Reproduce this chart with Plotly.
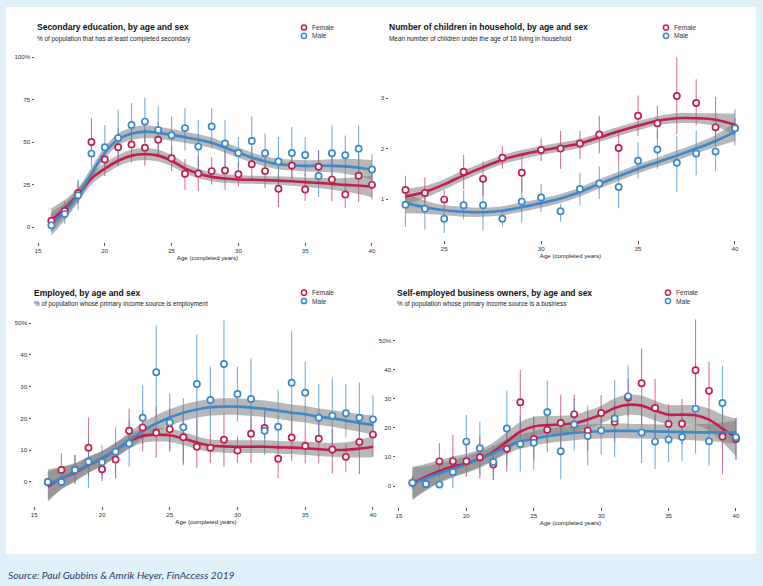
import numpy as np
import plotly.graph_objects as go

W, H = 763, 586

# ---------------- data ----------------
ages_a = list(range(16, 41))
ages_b = list(range(23, 41))

# Panel 1: secondary education (%)
edu_f = [3.7, 9.5, 20, 50, 39.7, 47, 48.6, 46.7, 51.4, 40.5, 31.3, 31.5, 32.9, 33.3, 31.1, 37, 32.9, 22.5, 36.2, 22.1, 35.5, 27.9, 19.2, 30.2, 24.8]
edu_f_lo = [0.5, 5, 14, 43, 30, 36, 38, 36, 41, 33, 22, 21, 25, 22, 24, 28, 23, 11.8, 28, 15.3, 26, 15.3, 11.4, 14.7, 16.3]
edu_f_hi = [8, 15, 27, 64, 49, 58, 59, 58, 62, 48, 40, 42, 41, 45, 38, 47, 42, 34, 45, 32, 45.3, 42, 28, 43, 33]
edu_m = [1, 7.6, 18.7, 43.2, 47, 52.3, 60, 62, 57, 54, 58.2, 47.3, 59.1, 49.2, 43.6, 50.6, 43.4, 38.6, 43.6, 42.4, 30, 43.4, 42.2, 46.1, 33.9]
edu_m_lo = [-2, 2, 10, 35, 34, 36, 48, 50, 43, 42, 45, 33, 46, 36, 34, 36, 32, 22.5, 29, 30, 17.6, 27, 27, 30, 25]
edu_m_hi = [4, 14, 28, 52, 60, 69, 73, 76, 71, 65, 70, 63, 70, 63, 53, 65, 55, 53, 58.9, 53, 44.8, 59.9, 53.9, 59.9, 42.8]
edu_f_fit = [4, 11, 19, 28.5, 34.3, 39, 42, 42.9, 42, 39, 34.5, 31.5, 29.5, 28.5, 28, 27.8, 27.6, 27.3, 26.9, 26.4, 26, 25.4, 24.8, 24.4, 23.8]
edu_m_fit = [2, 9, 18.7, 31.4, 43.7, 51.5, 54.8, 56.1, 55.4, 54.2, 52.8, 51.3, 49.6, 46.7, 43.8, 40.9, 38.6, 37, 36.4, 36, 36, 36, 35.7, 34.9, 33.7]
edu_f_se = [7, 5, 4, 3.5, 3.3, 3.3, 3.5, 3.6, 3.5, 3.3, 3, 2.8, 2.6, 2.5, 2.4, 2.4, 2.4, 2.5, 2.6, 2.8, 3, 3.4, 4, 5, 6.3]
edu_m_se = [7, 5, 4, 3.6, 3.5, 3.5, 3.6, 3.7, 3.6, 3.5, 3.3, 3.2, 3.1, 3, 3, 3, 3, 3.1, 3.2, 3.3, 3.5, 3.8, 4.3, 5, 5.8]

# Panel 2: number of children
kid_f = [1.18, 1.12, 0.99, 1.54, 1.40, 1.82, 1.52, 1.97, 2.0, 2.1, 2.28, 2.01, 2.65, 2.5, 3.04, 2.9, 2.42, 2.41]
kid_f_lo = [1.0, 0.95, 0.8, 1.2, 1.05, 1.6, 1.15, 1.75, 1.6, 1.8, 1.9, 1.67, 2.25, 2.2, 2.29, 2.45, 2.1, 2.3]
kid_f_hi = [1.46, 1.43, 1.18, 1.87, 1.75, 2.05, 1.83, 2.2, 2.35, 2.35, 2.65, 2.33, 3.05, 2.84, 3.8, 3.37, 3.02, 2.6]
kid_m = [0.89, 0.81, 0.61, 0.88, 0.88, 0.61, 0.95, 1.03, 0.76, 1.2, 1.31, 1.24, 1.76, 1.98, 1.72, 1.9, 1.94, 2.4]
kid_m_lo = [0.45, 0.4, 0.33, 0.6, 0.38, 0.45, 0.54, 0.75, 0.55, 0.88, 1.0, 0.82, 1.4, 1.6, 1.14, 1.47, 1.55, 2.06]
kid_m_hi = [1.1, 1.1, 0.8, 1.17, 1.38, 0.78, 1.4, 1.3, 0.9, 1.52, 1.65, 1.67, 2.12, 2.35, 2.25, 2.35, 2.35, 2.78]
kid_f_fit = [1.05, 1.14, 1.29, 1.47, 1.63, 1.78, 1.88, 1.96, 2.03, 2.1, 2.22, 2.34, 2.45, 2.55, 2.6, 2.6, 2.57, 2.47]
kid_m_fit = [0.92, 0.84, 0.78, 0.75, 0.74, 0.77, 0.84, 0.92, 1.01, 1.14, 1.3, 1.45, 1.6, 1.73, 1.86, 2.0, 2.15, 2.33]
kid_f_se = [0.16, 0.12, 0.1, 0.1, 0.09, 0.09, 0.09, 0.09, 0.09, 0.09, 0.09, 0.09, 0.09, 0.09, 0.1, 0.1, 0.13, 0.22]
kid_m_se = [0.2, 0.13, 0.1, 0.1, 0.09, 0.09, 0.09, 0.09, 0.09, 0.09, 0.09, 0.09, 0.09, 0.09, 0.1, 0.1, 0.12, 0.18]

# Panel 3: employed (%)
emp_f = [0, 3.8, 3.8, 10.8, 4, 7.1, 16.1, 17.1, 15.5, 16.6, 14.1, 11.1, 10.8, 13.3, 9.9, 15.2, 17.0, 7.3, 14.0, 11.3, 13.6, 10.2, 7.9, 12.6, 14.9]
emp_f_lo = [0, -0.5, -0.5, 1.5, 0.3, 1.6, 11, 9.6, 7.6, 9.6, 5.9, 4.3, 6, 4.8, 6, 6, 13.5, 1.2, 6.5, 5.8, 5.8, 2.7, 3.2, 2.5, 8]
emp_f_hi = [0, 9, 8.5, 20.3, 8, 12.6, 23.1, 22.6, 23.5, 23, 22, 20, 15.3, 22, 14.3, 20.5, 23.5, 12, 22, 17, 19, 17, 12, 19, 19]
emp_m = [0, 0, 3.8, 6.4, 6.2, 9.5, 12.1, 20.2, 34.5, 18.7, 17.2, 30.8, 25.8, 37.1, 27.7, 26.1, 16.1, 17.4, 31.2, 28.1, 20.2, 20.8, 21.6, 20.2, 19.7]
emp_m_lo = [0, 0, -0.6, -1.8, 1, 1, 4.8, 12.1, 20, 10, 5.3, 12, 15.3, 23, 19, 14, 8.5, 10, 15, 17, 12.6, 8, 14, 10, 15]
emp_m_hi = [0, 0, 8.5, 14, 11.6, 17.4, 19.4, 30.4, 49.3, 27.9, 26.3, 46.4, 36.3, 50.9, 36.3, 38.9, 22, 29, 47.6, 37.9, 30.8, 32.6, 30.8, 31.2, 27.3]
emp_f_fit = [-1.5, 1.2, 2.9, 5.3, 7.4, 10, 12.7, 14.5, 14.9, 14.7, 13.7, 12.4, 11.4, 11.2, 11.1, 11.1, 11.1, 10.9, 10.8, 10.6, 10.3, 10.1, 10.1, 10.5, 11.1]
emp_m_fit = [-0.9, 1.2, 3.2, 5.5, 7.4, 10, 13, 16.1, 18.4, 20.3, 21.8, 22.8, 23.5, 23.7, 23.7, 23.4, 23, 22.4, 21.8, 21.3, 20.5, 20, 19.3, 18.6, 17.9]
emp_f_se = [4.8, 3.5, 2.8, 2.5, 2.3, 2.2, 2.2, 2.2, 2.2, 2.1, 2.1, 2, 2, 2, 2, 2, 2, 2, 2, 2.1, 2.1, 2.2, 2.4, 2.8, 3.3]
emp_m_se = [4.8, 3.5, 2.8, 2.5, 2.4, 2.4, 2.5, 2.6, 2.6, 2.6, 2.6, 2.6, 2.6, 2.6, 2.6, 2.6, 2.6, 2.6, 2.6, 2.6, 2.6, 2.6, 2.7, 2.8, 3]

# Panel 4: self-employed business owners (%)
bus_f = [1.1, 0.7, 8.5, 8.5, 8.5, 9.9, 7.4, 12.8, 28.9, 16.2, 19.4, 21.7, 24.7, 19.1, 25.2, 22.1, 30.5, 35.4, 26.9, 21.4, 21.5, 39.9, 32.8, 17.1, 16.2]
bus_f_lo = [-0.5, -0.5, 2.6, 4.5, 3.2, 2.6, 2.1, 4.9, 18, 9, 11.8, 12, 18, 12, 19, 15, 24, 21.1, 16.5, 14.3, 14.3, 22.3, 23.4, 4.1, 9.1]
bus_f_hi = [3.5, 2, 14.7, 17.6, 14, 17, 12.5, 21, 40, 23.9, 27, 31.5, 31.5, 26, 31.3, 29, 37, 47.4, 37, 28.2, 30, 57.4, 42.8, 28, 23.4]
bus_m = [1.1, 0.7, 0.5, 4.8, 15.3, 13, 8.3, 19.8, 14.5, 14.9, 25.4, 12.0, 21.2, 17.2, 19.1, 23.3, 30.9, 18.4, 15.3, 16, 16.9, 26.6, 15.4, 28.6, 16.8]
bus_m_lo = [-1, -0.5, -0.5, -0.8, 7, 4, 2.5, 7, 5, 5.7, 14.5, 2.3, 12.3, 7.1, 10.8, 9.9, 20, 7.9, 5.9, 8.3, 8.5, 11.1, 7, 16.5, 9.1]
bus_m_hi = [3, 2, 1.5, 10.5, 24.5, 22.2, 14, 32.8, 24, 24, 36.3, 22, 30, 27.7, 27.5, 36.5, 41.5, 28, 24.6, 23.4, 24.6, 41.9, 23.4, 41.4, 23.4]
bus_f_fit = [0.9, 3.2, 5.2, 6.7, 7.8, 9.5, 11.8, 15.3, 18.7, 20.5, 21, 21.2, 21.6, 22.9, 24.6, 26.9, 28, 27.7, 26, 24.6, 24.6, 24.4, 22.9, 19.8, 16.8]
bus_m_fit = [0.9, 2.6, 4.4, 5.9, 7.5, 9.3, 11.3, 13.6, 15.3, 16.4, 17.2, 17.8, 18.3, 18.7, 18.9, 19, 19, 18.9, 18.8, 18.7, 18.6, 18.5, 18.5, 18.5, 18.5]
bus_f_se = [5.7, 4.5, 3.8, 3.5, 3.3, 3.2, 3.2, 3.3, 3.4, 3.3, 3.1, 3, 3, 3, 3.1, 3.3, 3.5, 3.5, 3.4, 3.3, 3.3, 3.4, 3.8, 4.8, 6.5]
bus_m_se = [5.5, 4.2, 3.4, 3, 2.8, 2.6, 2.5, 2.5, 2.5, 2.5, 2.5, 2.5, 2.5, 2.5, 2.5, 2.5, 2.5, 2.5, 2.5, 2.5, 2.6, 2.8, 3, 3.4, 4]

titles = ["Secondary education, by age and sex",
          "Number of children in household, by age and sex",
          "Employed, by age and sex",
          "Self-employed business owners, by age and sex"]
subtitles = ["% of population that has at least completed secondary",
             "Mean number of children under the age of 16 living in household",
             "% of population whose primary income source is employment",
             "% of population whose primary income source is a business"]
series_names = ["Female", "Male"]
x_title = "Age (completed years)"
source_text = "Source: Paul Gubbins & Amrik Heyer, FinAccess 2019"

# ---------------- style ----------------
RED = "#c21f4e"
BLUE = "#3b88cb"
RED_ERR = "rgba(194,31,78,0.62)"
BLUE_ERR = "rgba(59,136,203,0.68)"
RIB = "rgba(125,125,125,0.55)"
FONT = "Liberation Sans, Arial, sans-serif"


def px_x(x):
    return x / W


def px_y(y):
    return 1 - y / H


fig = go.Figure()

panels = [
    dict(ages=ages_a, f=edu_f, flo=edu_f_lo, fhi=edu_f_hi, m=edu_m, mlo=edu_m_lo, mhi=edu_m_hi,
         ffit=edu_f_fit, fse=edu_f_se, mfit=edu_m_fit, mse=edu_m_se,
         dom=(35, 380, 48, 242), xr=[14.775, 40.6], yr=[-8.8, 105.3],
         xt=[15, 20, 25, 30, 35, 40], yt=[0, 25, 50, 75, 100], ytt=["0", "25", "50", "75", "100%"],
         title=(35, 27.3), sub=(35, 39), leg=(304, 27.5)),
    dict(ages=ages_b, f=kid_f, flo=kid_f_lo, fhi=kid_f_hi, m=kid_m, mlo=kid_m_lo, mhi=kid_m_hi,
         ffit=kid_f_fit, fse=kid_f_se, mfit=kid_m_fit, mse=kid_m_se,
         dom=(389, 752, 48, 240), xr=[22.15, 40.88], yr=[0.19, 3.99],
         xt=[25, 30, 35, 40], yt=[1, 2, 3], ytt=["1", "2", "3"],
         title=(387, 27.5), sub=(387, 39.3), leg=(666, 27.5)),
    dict(ages=ages_a, f=emp_f, flo=emp_f_lo, fhi=emp_f_hi, m=emp_m, mlo=emp_m_lo, mhi=emp_m_hi,
         ffit=emp_f_fit, fse=emp_f_se, mfit=emp_m_fit, mse=emp_m_se,
         dom=(32, 380, 316, 506), xr=[14.83, 40.52], yr=[-7.55, 52.2],
         xt=[15, 20, 25, 30, 35, 40], yt=[0, 10, 20, 30, 40, 50], ytt=["0", "10", "20", "30", "40", "50%"],
         title=(32, 293.3), sub=(32, 304.3), leg=(304, 292.7)),
    dict(ages=ages_a, f=bus_f, flo=bus_f_lo, fhi=bus_f_hi, m=bus_m, mlo=bus_m_lo, mhi=bus_m_hi,
         ffit=bus_f_fit, fse=bus_f_se, mfit=bus_m_fit, mse=bus_m_se,
         dom=(396, 745, 316, 507), xr=[14.78, 40.67], yr=[-7.24, 58.6],
         xt=[15, 20, 25, 30, 35, 40], yt=[0, 10, 20, 30, 40, 50], ytt=["0", "10", "20", "30", "40", "50%"],
         title=(395, 293), sub=(395, 304), leg=(668, 292.7)),
]

annotations = []
shapes = [dict(type="rect", xref="paper", yref="paper", x0=px_x(6), x1=px_x(756),
               y0=px_y(554), y1=px_y(7), fillcolor="white", line=dict(width=0), layer="below")]

for i, p in enumerate(panels):
    n = i + 1
    xa = "x" if n == 1 else f"x{n}"
    ya = "y" if n == 1 else f"y{n}"
    ages = np.array(p["ages"], dtype=float)

    # error bars
    for val, lo, hi, col in [(p["f"], p["flo"], p["fhi"], RED_ERR), (p["m"], p["mlo"], p["mhi"], BLUE_ERR)]:
        val = np.array(val, float)
        fig.add_trace(go.Scatter(
            x=ages, y=val, mode="markers", xaxis=xa, yaxis=ya, showlegend=False, hoverinfo="skip",
            marker=dict(size=1, color="rgba(0,0,0,0)"),
            error_y=dict(type="data", symmetric=False, array=np.array(hi, float) - val,
                         arrayminus=val - np.array(lo, float), width=0, thickness=1.1, color=col)))

    # ribbons
    for fit, se in [(p["ffit"], p["fse"]), (p["mfit"], p["mse"])]:
        fit = np.array(fit, float)
        se = np.array(se, float)
        fig.add_trace(go.Scatter(x=ages, y=fit - se, mode="lines", xaxis=xa, yaxis=ya,
                                 line=dict(width=0, shape="spline"), showlegend=False, hoverinfo="skip"))
        fig.add_trace(go.Scatter(x=ages, y=fit + se, mode="lines", xaxis=xa, yaxis=ya, fill="tonexty",
                                 fillcolor=RIB, line=dict(width=0, shape="spline"),
                                 showlegend=False, hoverinfo="skip"))

    # smooth lines
    for fit, col in [(p["ffit"], RED), (p["mfit"], BLUE)]:
        fig.add_trace(go.Scatter(x=ages, y=fit, mode="lines", xaxis=xa, yaxis=ya,
                                 line=dict(width=2.6, color=col, shape="spline"),
                                 showlegend=False, hoverinfo="skip"))

    # points
    for val, col, nm in [(p["f"], RED, series_names[0]), (p["m"], BLUE, series_names[1])]:
        fig.add_trace(go.Scatter(x=ages, y=val, mode="markers", xaxis=xa, yaxis=ya, name=nm,
                                 showlegend=False,
                                 marker=dict(symbol="circle", size=6.2, color="white",
                                             line=dict(width=1.7, color=col))))

    x0, x1, y0, y1 = p["dom"]
    axis_common = dict(showgrid=False, zeroline=False, showline=False, ticks="outside",
                       ticklen=2.5, tickwidth=0.8, tickcolor="#555",
                       tickfont=dict(family=FONT, size=6.2, color="#333"))
    fig.layout[f"xaxis{'' if n == 1 else n}"] = dict(
        domain=[px_x(x0), px_x(x1)], range=p["xr"], anchor=ya, tickvals=p["xt"],
        title=dict(text=x_title, font=dict(family=FONT, size=6.1, color="#222"), standoff=1),
        **axis_common)
    fig.layout[f"yaxis{'' if n == 1 else n}"] = dict(
        domain=[px_y(y1), px_y(y0)], range=p["yr"], anchor=xa, tickvals=p["yt"], ticktext=p["ytt"],
        **axis_common)

    # title and subtitle
    tx, ty = p["title"]
    annotations.append(dict(text=f"<b>{titles[i]}</b>", x=px_x(tx), y=px_y(ty), xref="paper", yref="paper",
                            xanchor="left", yanchor="middle", showarrow=False,
                            font=dict(family=FONT, size=8.5, color="#111")))
    sx, sy = p["sub"]
    annotations.append(dict(text=subtitles[i], x=px_x(sx), y=px_y(sy), xref="paper", yref="paper",
                            xanchor="left", yanchor="middle", showarrow=False,
                            font=dict(family=FONT, size=6.4, color="#222")))

    # legend keys
    lx, ly = p["leg"]
    for k, (nm, col) in enumerate(zip(series_names, [RED, BLUE])):
        cy = ly + 8.3 * k
        shapes.append(dict(type="circle", xref="paper", yref="paper",
                           x0=px_x(lx - 2.6), x1=px_x(lx + 2.6), y0=px_y(cy + 2.6), y1=px_y(cy - 2.6),
                           fillcolor="white", line=dict(color=col, width=1.5)))
        annotations.append(dict(text=nm, x=px_x(lx + 5.5), y=px_y(cy), xref="paper", yref="paper",
                                xanchor="left", yanchor="middle", showarrow=False,
                                font=dict(family=FONT, size=6.6, color="#333")))

annotations.append(dict(text=source_text, x=px_x(6), y=px_y(574.5), xref="paper", yref="paper",
                        xanchor="left", yanchor="middle", showarrow=False,
                        font=dict(family="Lato, sans-serif", size=10.3, color="#2a3c6e", style="italic")))

fig.update_layout(width=W, height=H, margin=dict(l=0, r=0, t=0, b=0),
                  paper_bgcolor="#e0f1fa", plot_bgcolor="rgba(0,0,0,0)",
                  showlegend=False, annotations=annotations, shapes=shapes)

fig.write_html("out.html")
